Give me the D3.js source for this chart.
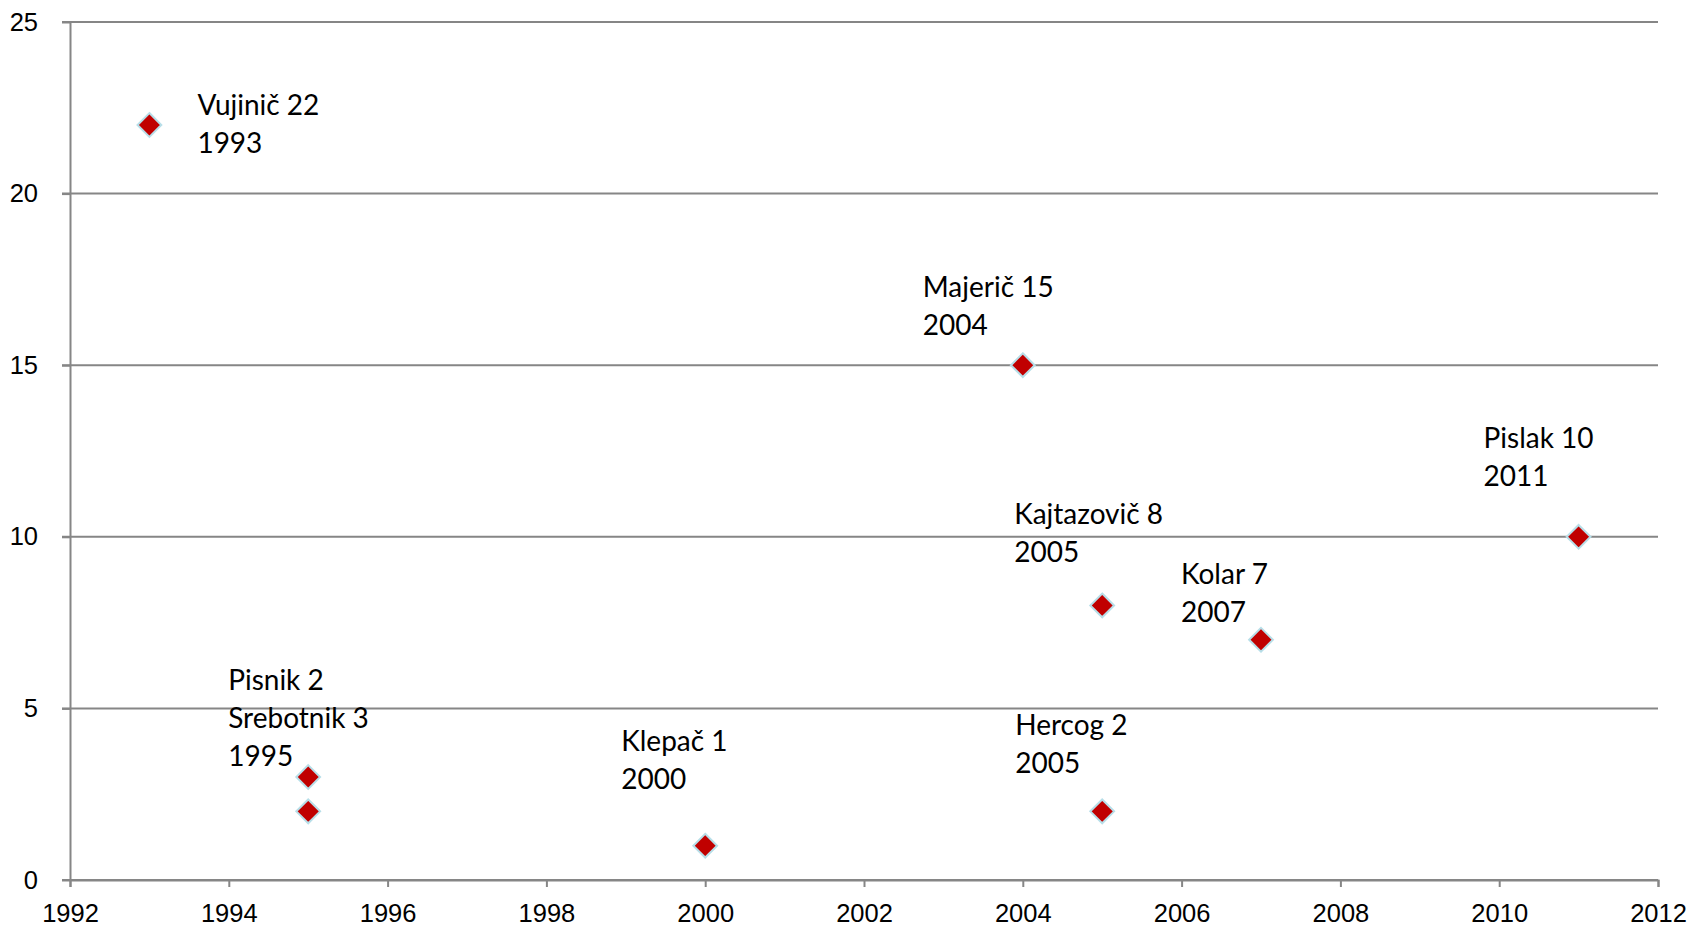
<!DOCTYPE html>
<html>
<head>
<meta charset="utf-8">
<script src="https://cdn.jsdelivr.net/npm/d3@7"></script>
<style>
  body { margin: 0; background: #fff; }
  svg { display: block; }
  .axis text { font-family: "Liberation Sans", Arial, sans-serif; font-size: 25.5px; fill: #000; }
  .lbl { font-family: Lato, "Open Sans", sans-serif; font-size: 28px; fill: #000; }
</style>
</head>
<body>
<div id="chart"></div>
<script>
// data
var names  = ["Vujinič", "Pisnik", "Srebotnik", "Klepač", "Majerič", "Kajtazovič", "Hercog", "Kolar", "Pislak"]
var years  = [1993, 1995, 1995, 2000, 2004, 2005, 2005, 2007, 2011]
var values = [22, 2, 3, 1, 15, 8, 2, 7, 10]
var xTicks = [1992, 1994, 1996, 1998, 2000, 2002, 2004, 2006, 2008, 2010, 2012]
var yTicks = [0, 5, 10, 15, 20, 25]
// which points share one label (indices into the arrays above)
var labelGroups = [[0], [1, 2], [3], [4], [5], [6], [7], [8]]

// label placement relative to the top point of each group (pixels)
var labelOffsets = [[48, 28], [-80, -11], [-84, -57], [-100, -30], [-88, -43], [-87, -38], [-80, -18], [-95, -51]]

var width = 1688,
    height = 926
var plotL = 70, plotR = 1658, plotT = 22, plotB = 880
var lineH = 38

var svg = d3.select("#chart")
  .append("svg")
    .attr("width", width)
    .attr("height", height)

var x = d3.scaleLinear().domain([1992, 2012]).range([plotL, plotR])
var y = d3.scaleLinear().domain([0, 25]).range([plotB, plotT])

var grey = "#868686"

// horizontal gridlines
svg.append("g")
  .selectAll("line")
  .data(yTicks)
  .enter()
  .append("line")
    .attr("x1", plotL - 8)
    .attr("x2", plotR)
    .attr("y1", function(d) { return y(d) })
    .attr("y2", function(d) { return y(d) })
    .attr("stroke", grey)
    .attr("stroke-width", 2)

// y axis
var yAxis = svg.append("g")
  .attr("class", "axis")
  .attr("transform", "translate(" + plotL + ",0)")
  .call(d3.axisLeft(y).tickValues(yTicks).tickSize(8).tickSizeOuter(0).tickPadding(24))
yAxis.selectAll("line").attr("stroke", grey).attr("stroke-width", 2)
yAxis.select(".domain").attr("stroke", grey).attr("stroke-width", 2)

// x axis
var xAxis = svg.append("g")
  .attr("class", "axis")
  .attr("transform", "translate(0," + plotB + ")")
  .call(d3.axisBottom(x).tickValues(xTicks).tickFormat(d3.format("d")).tickSize(7).tickSizeOuter(7).tickPadding(17))
xAxis.selectAll("line").attr("stroke", grey).attr("stroke-width", 2)
xAxis.select(".domain").attr("stroke", grey).attr("stroke-width", 2)
xAxis.selectAll("text").attr("dy", "0.71em")

// markers
var diamond = d3.symbol().type(d3.symbolDiamond2).size(360)
svg.append("g")
  .selectAll("path")
  .data(years)
  .enter()
  .append("path")
    .attr("d", diamond)
    .attr("transform", function(d, i) { return "translate(" + x(d) + "," + y(values[i]) + ")" })
    .attr("fill", "#C00000")
    .attr("stroke", "#B7DEE8")
    .attr("stroke-width", 2)

// labels
labelGroups.forEach(function(g, k) {
  var topI = g.reduce(function(a, b) { return values[b] > values[a] ? b : a })
  var lines = g.map(function(i) { return names[i] + " " + values[i] }).concat([String(years[g[0]])])
  var x0 = x(years[topI]) + labelOffsets[k][0]
  var yLast = y(values[topI]) + labelOffsets[k][1]
  var t = svg.append("text")
    .attr("class", "lbl")
  lines.forEach(function(s, j) {
    t.append("tspan")
      .attr("x", x0)
      .attr("y", yLast - (lines.length - 1 - j) * lineH)
      .text(s)
  })
})
</script>
</body>
</html>
